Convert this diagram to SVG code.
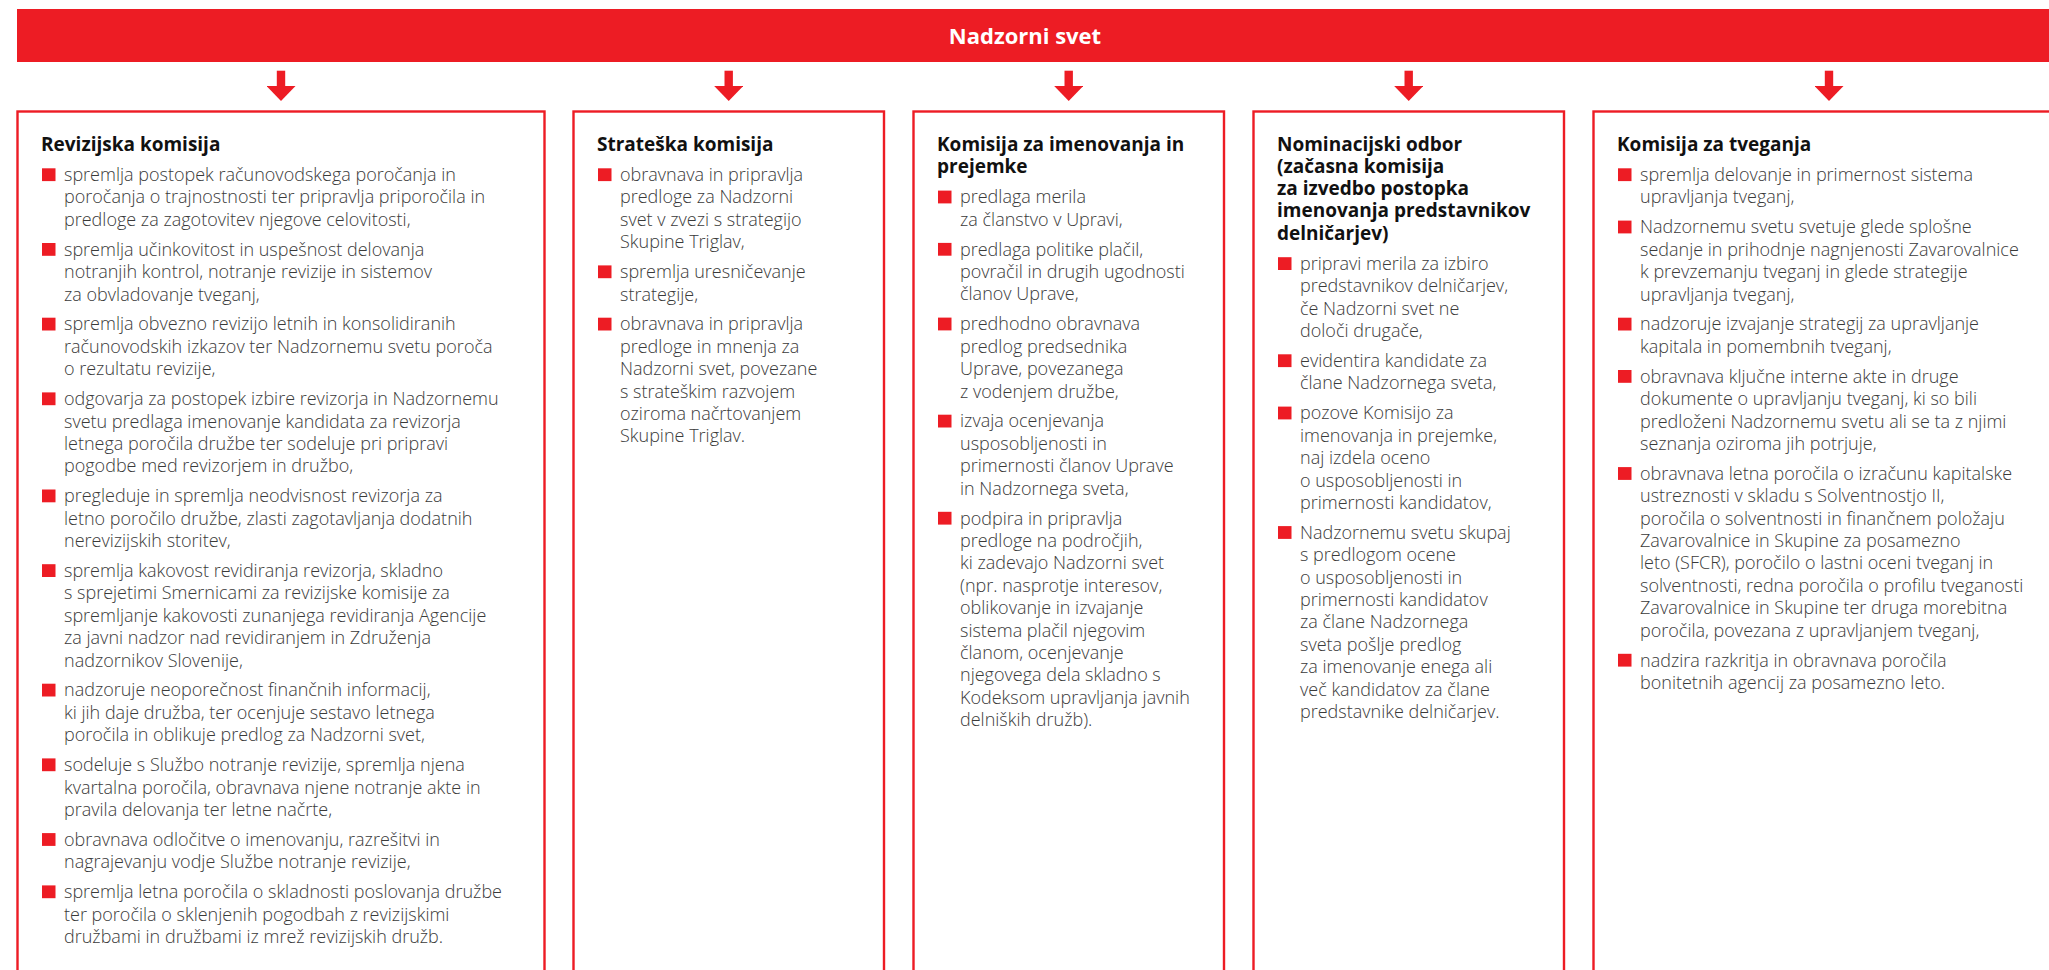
<svg xmlns="http://www.w3.org/2000/svg" width="2049" height="970" viewBox="0 0 2049 970">
<defs>
<style>
.box{fill:#fff;stroke:#ED1C24;stroke-width:2.4}
.hd{font-family:"Open Sans","Liberation Sans",sans-serif;font-weight:700;font-size:19px;fill:#111}
.tx{font-family:"Open Sans","Liberation Sans",sans-serif;font-weight:300;font-size:18px;fill:#3a3a3a}
.bl{fill:#ED1C24}
.title{font-family:"Open Sans","Liberation Sans",sans-serif;font-weight:700;font-size:22px;fill:#fff}
.arr{stroke:#ED1C24;stroke-width:8.4;fill:none}
</style>
<marker id="head" markerUnits="userSpaceOnUse" markerWidth="15" markerHeight="29" refX="0" refY="14.5" orient="auto" viewBox="0 0 15 29">
<path d="M0,0 L15,14.5 L0,29 Z" fill="#ED1C24"/>
</marker>
</defs>
<rect width="2049" height="970" fill="#fff"/>
<g id="nadzorni-svet">
<rect x="17" y="9" width="2040" height="53" fill="#ED1C24"/>
<text class="title" x="1025" y="44" text-anchor="middle">Nadzorni svet</text>
</g>
<g id="connectors">
<line class="arr" x1="281" y1="70.7" x2="281" y2="86" marker-end="url(#head)"/>
<line class="arr" x1="728.7" y1="70.7" x2="728.7" y2="86" marker-end="url(#head)"/>
<line class="arr" x1="1068.7" y1="70.7" x2="1068.7" y2="86" marker-end="url(#head)"/>
<line class="arr" x1="1408.7" y1="70.7" x2="1408.7" y2="86" marker-end="url(#head)"/>
<line class="arr" x1="1829" y1="70.7" x2="1829" y2="86" marker-end="url(#head)"/>
</g>
<g id="revizijska-komisija">
<rect class="box" x="17.5" y="111.5" width="527" height="900"/>
<text class="hd" x="41" y="150.7">Revizijska komisija</text>
<g class="bl">
<rect x="42" y="168.3" width="13.5" height="12.8"/>
<rect x="42" y="243" width="13.5" height="12.8"/>
<rect x="42" y="317.7" width="13.5" height="12.8"/>
<rect x="42" y="392.4" width="13.5" height="12.8"/>
<rect x="42" y="489.5" width="13.5" height="12.8"/>
<rect x="42" y="564.2" width="13.5" height="12.8"/>
<rect x="42" y="683.7" width="13.5" height="12.8"/>
<rect x="42" y="758.4" width="13.5" height="12.8"/>
<rect x="42" y="833.1" width="13.5" height="12.8"/>
<rect x="42" y="885.4" width="13.5" height="12.8"/>
</g>
<text class="tx">
<tspan x="64" y="181">spremlja postopek računovodskega poročanja in</tspan>
<tspan x="64" y="203.4">poročanja o trajnostnosti ter pripravlja priporočila in</tspan>
<tspan x="64" y="225.8">predloge za zagotovitev njegove celovitosti,</tspan>
<tspan x="64" y="255.7">spremlja učinkovitost in uspešnost delovanja</tspan>
<tspan x="64" y="278.1">notranjih kontrol, notranje revizije in sistemov</tspan>
<tspan x="64" y="300.5">za obvladovanje tveganj,</tspan>
<tspan x="64" y="330.4">spremlja obvezno revizijo letnih in konsolidiranih</tspan>
<tspan x="64" y="352.8">računovodskih izkazov ter Nadzornemu svetu poroča</tspan>
<tspan x="64" y="375.2">o rezultatu revizije,</tspan>
<tspan x="64" y="405.1">odgovarja za postopek izbire revizorja in Nadzornemu</tspan>
<tspan x="64" y="427.5">svetu predlaga imenovanje kandidata za revizorja</tspan>
<tspan x="64" y="449.9">letnega poročila družbe ter sodeluje pri pripravi</tspan>
<tspan x="64" y="472.3">pogodbe med revizorjem in družbo,</tspan>
<tspan x="64" y="502.2">pregleduje in spremlja neodvisnost revizorja za</tspan>
<tspan x="64" y="524.6">letno poročilo družbe, zlasti zagotavljanja dodatnih</tspan>
<tspan x="64" y="547">nerevizijskih storitev,</tspan>
<tspan x="64" y="576.9">spremlja kakovost revidiranja revizorja, skladno</tspan>
<tspan x="64" y="599.3">s sprejetimi Smernicami za revizijske komisije za</tspan>
<tspan x="64" y="621.7">spremljanje kakovosti zunanjega revidiranja Agencije</tspan>
<tspan x="64" y="644.1">za javni nadzor nad revidiranjem in Združenja</tspan>
<tspan x="64" y="666.5">nadzornikov Slovenije,</tspan>
<tspan x="64" y="696.4">nadzoruje neoporečnost finančnih informacij,</tspan>
<tspan x="64" y="718.8">ki jih daje družba, ter ocenjuje sestavo letnega</tspan>
<tspan x="64" y="741.2">poročila in oblikuje predlog za Nadzorni svet,</tspan>
<tspan x="64" y="771.1">sodeluje s Službo notranje revizije, spremlja njena</tspan>
<tspan x="64" y="793.5">kvartalna poročila, obravnava njene notranje akte in</tspan>
<tspan x="64" y="815.9">pravila delovanja ter letne načrte,</tspan>
<tspan x="64" y="845.8">obravnava odločitve o imenovanju, razrešitvi in</tspan>
<tspan x="64" y="868.2">nagrajevanju vodje Službe notranje revizije,</tspan>
<tspan x="64" y="898.1">spremlja letna poročila o skladnosti poslovanja družbe</tspan>
<tspan x="64" y="920.5">ter poročila o sklenjenih pogodbah z revizijskimi</tspan>
<tspan x="64" y="942.9">družbami in družbami iz mrež revizijskih družb.</tspan>
</text>
</g>
<g id="strateska-komisija">
<rect class="box" x="573.5" y="111.5" width="310.5" height="900"/>
<text class="hd" x="597" y="150.7">Strateška komisija</text>
<g class="bl">
<rect x="598" y="168.3" width="13.5" height="12.8"/>
<rect x="598" y="265.4" width="13.5" height="12.8"/>
<rect x="598" y="317.7" width="13.5" height="12.8"/>
</g>
<text class="tx">
<tspan x="620" y="181">obravnava in pripravlja</tspan>
<tspan x="620" y="203.4">predloge za Nadzorni</tspan>
<tspan x="620" y="225.8">svet v zvezi s strategijo</tspan>
<tspan x="620" y="248.2">Skupine Triglav,</tspan>
<tspan x="620" y="278.1">spremlja uresničevanje</tspan>
<tspan x="620" y="300.5">strategije,</tspan>
<tspan x="620" y="330.4">obravnava in pripravlja</tspan>
<tspan x="620" y="352.8">predloge in mnenja za</tspan>
<tspan x="620" y="375.2">Nadzorni svet, povezane</tspan>
<tspan x="620" y="397.6">s strateškim razvojem</tspan>
<tspan x="620" y="420">oziroma načrtovanjem</tspan>
<tspan x="620" y="442.4">Skupine Triglav.</tspan>
</text>
</g>
<g id="komisija-za-imenovanja">
<rect class="box" x="913.5" y="111.5" width="310.5" height="900"/>
<text class="hd"><tspan x="937" y="150.7">Komisija za imenovanja in</tspan><tspan x="937" y="172.9">prejemke</tspan></text>
<g class="bl">
<rect x="938" y="190.6" width="13.5" height="12.8"/>
<rect x="938" y="242.9" width="13.5" height="12.8"/>
<rect x="938" y="317.6" width="13.5" height="12.8"/>
<rect x="938" y="414.7" width="13.5" height="12.8"/>
<rect x="938" y="511.8" width="13.5" height="12.8"/>
</g>
<text class="tx">
<tspan x="960" y="203.3">predlaga merila</tspan>
<tspan x="960" y="225.7">za članstvo v Upravi,</tspan>
<tspan x="960" y="255.6">predlaga politike plačil,</tspan>
<tspan x="960" y="278">povračil in drugih ugodnosti</tspan>
<tspan x="960" y="300.4">članov Uprave,</tspan>
<tspan x="960" y="330.3">predhodno obravnava</tspan>
<tspan x="960" y="352.7">predlog predsednika</tspan>
<tspan x="960" y="375.1">Uprave, povezanega</tspan>
<tspan x="960" y="397.5">z vodenjem družbe,</tspan>
<tspan x="960" y="427.4">izvaja ocenjevanja</tspan>
<tspan x="960" y="449.8">usposobljenosti in</tspan>
<tspan x="960" y="472.2">primernosti članov Uprave</tspan>
<tspan x="960" y="494.6">in Nadzornega sveta,</tspan>
<tspan x="960" y="524.5">podpira in pripravlja</tspan>
<tspan x="960" y="546.9">predloge na področjih,</tspan>
<tspan x="960" y="569.3">ki zadevajo Nadzorni svet</tspan>
<tspan x="960" y="591.7">(npr. nasprotje interesov,</tspan>
<tspan x="960" y="614.1">oblikovanje in izvajanje</tspan>
<tspan x="960" y="636.5">sistema plačil njegovim</tspan>
<tspan x="960" y="658.9">članom, ocenjevanje</tspan>
<tspan x="960" y="681.3">njegovega dela skladno s</tspan>
<tspan x="960" y="703.7">Kodeksom upravljanja javnih</tspan>
<tspan x="960" y="726.1">delniških družb).</tspan>
</text>
</g>
<g id="nominacijski-odbor">
<rect class="box" x="1253.5" y="111.5" width="310.5" height="900"/>
<text class="hd"><tspan x="1277" y="150.7">Nominacijski odbor</tspan><tspan x="1277" y="172.9">(začasna komisija</tspan><tspan x="1277" y="195.1">za izvedbo postopka</tspan><tspan x="1277" y="217.3">imenovanja predstavnikov</tspan><tspan x="1277" y="239.5">delničarjev)</tspan></text>
<g class="bl">
<rect x="1278" y="257.2" width="13.5" height="12.8"/>
<rect x="1278" y="354.3" width="13.5" height="12.8"/>
<rect x="1278" y="406.6" width="13.5" height="12.8"/>
<rect x="1278" y="526.1" width="13.5" height="12.8"/>
</g>
<text class="tx">
<tspan x="1300" y="269.9">pripravi merila za izbiro</tspan>
<tspan x="1300" y="292.3">predstavnikov delničarjev,</tspan>
<tspan x="1300" y="314.7">če Nadzorni svet ne</tspan>
<tspan x="1300" y="337.1">določi drugače,</tspan>
<tspan x="1300" y="367">evidentira kandidate za</tspan>
<tspan x="1300" y="389.4">člane Nadzornega sveta,</tspan>
<tspan x="1300" y="419.3">pozove Komisijo za</tspan>
<tspan x="1300" y="441.7">imenovanja in prejemke,</tspan>
<tspan x="1300" y="464.1">naj izdela oceno</tspan>
<tspan x="1300" y="486.5">o usposobljenosti in</tspan>
<tspan x="1300" y="508.9">primernosti kandidatov,</tspan>
<tspan x="1300" y="538.8">Nadzornemu svetu skupaj</tspan>
<tspan x="1300" y="561.2">s predlogom ocene</tspan>
<tspan x="1300" y="583.6">o usposobljenosti in</tspan>
<tspan x="1300" y="606">primernosti kandidatov</tspan>
<tspan x="1300" y="628.4">za člane Nadzornega</tspan>
<tspan x="1300" y="650.8">sveta pošlje predlog</tspan>
<tspan x="1300" y="673.2">za imenovanje enega ali</tspan>
<tspan x="1300" y="695.6">več kandidatov za člane</tspan>
<tspan x="1300" y="718">predstavnike delničarjev.</tspan>
</text>
</g>
<g id="komisija-za-tveganja">
<rect class="box" x="1593.5" y="111.5" width="480" height="900"/>
<text class="hd" x="1617" y="150.7">Komisija za tveganja</text>
<g class="bl">
<rect x="1618" y="168.3" width="13.5" height="12.8"/>
<rect x="1618" y="220.6" width="13.5" height="12.8"/>
<rect x="1618" y="317.7" width="13.5" height="12.8"/>
<rect x="1618" y="370" width="13.5" height="12.8"/>
<rect x="1618" y="467.1" width="13.5" height="12.8"/>
<rect x="1618" y="653.8" width="13.5" height="12.8"/>
</g>
<text class="tx">
<tspan x="1640" y="181">spremlja delovanje in primernost sistema</tspan>
<tspan x="1640" y="203.4">upravljanja tveganj,</tspan>
<tspan x="1640" y="233.3">Nadzornemu svetu svetuje glede splošne</tspan>
<tspan x="1640" y="255.7">sedanje in prihodnje nagnjenosti Zavarovalnice</tspan>
<tspan x="1640" y="278.1">k prevzemanju tveganj in glede strategije</tspan>
<tspan x="1640" y="300.5">upravljanja tveganj,</tspan>
<tspan x="1640" y="330.4">nadzoruje izvajanje strategij za upravljanje</tspan>
<tspan x="1640" y="352.8">kapitala in pomembnih tveganj,</tspan>
<tspan x="1640" y="382.7">obravnava ključne interne akte in druge</tspan>
<tspan x="1640" y="405.1">dokumente o upravljanju tveganj, ki so bili</tspan>
<tspan x="1640" y="427.5">predloženi Nadzornemu svetu ali se ta z njimi</tspan>
<tspan x="1640" y="449.9">seznanja oziroma jih potrjuje,</tspan>
<tspan x="1640" y="479.8">obravnava letna poročila o izračunu kapitalske</tspan>
<tspan x="1640" y="502.2">ustreznosti v skladu s Solventnostjo II,</tspan>
<tspan x="1640" y="524.6">poročila o solventnosti in finančnem položaju</tspan>
<tspan x="1640" y="547">Zavarovalnice in Skupine za posamezno</tspan>
<tspan x="1640" y="569.4">leto (SFCR), poročilo o lastni oceni tveganj in</tspan>
<tspan x="1640" y="591.8">solventnosti, redna poročila o profilu tveganosti</tspan>
<tspan x="1640" y="614.2">Zavarovalnice in Skupine ter druga morebitna</tspan>
<tspan x="1640" y="636.6">poročila, povezana z upravljanjem tveganj,</tspan>
<tspan x="1640" y="666.5">nadzira razkritja in obravnava poročila</tspan>
<tspan x="1640" y="688.9">bonitetnih agencij za posamezno leto.</tspan>
</text>
</g>
</svg>
